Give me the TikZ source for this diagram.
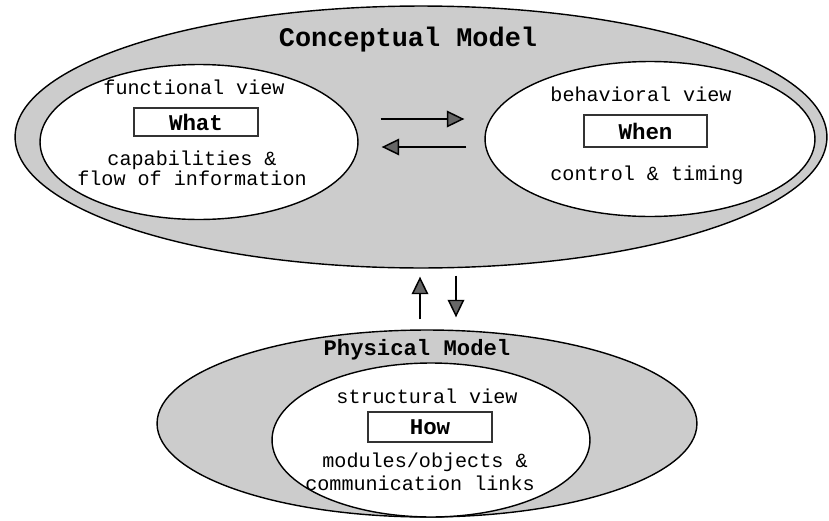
\documentclass[tikz,border=0pt]{standalone}
\usepackage{fontspec}
\setmainfont{Liberation Mono}
\usetikzlibrary{arrows.meta, shapes.geometric}

\tikzset{
    model/.style={ellipse, draw, line width=0.8pt, fill=gray!40, inner sep=0pt},
    view/.style={ellipse, draw, line width=0.8pt, fill=white, inner sep=0pt},
    askbox/.style={draw=black!80, line width=0.6pt, fill=white, inner sep=0pt,
        font=\fontsize{12.8}{14}\selectfont\bfseries},
    viewtext/.style={anchor=base, inner sep=0pt, font=\fontsize{11.45}{13}\selectfont},
    modeltitle/.style={anchor=base, inner sep=0pt},
    flow/.style={-{Triangle[length=10pt, width=9.5pt, fill=black!60]}, line width=0.85pt},
}

\begin{document}
\begin{tikzpicture}[x=0.02cm, y=-0.02cm]
    \useasboundingbox (0,0) rectangle (829,521);

    % Conceptual model with its two views
    \node[model, minimum width=16.24cm, minimum height=5.24cm] (concept) at (421,137) {};
    \node[modeltitle, font=\fontsize{15.3}{18}\selectfont\bfseries] (ctitle) at (408,46) {Conceptual Model};

    \node[view, minimum width=6.36cm, minimum height=3.1cm] (func) at (199,142) {};
    \node[viewtext] (functitle) at (194,94) {functional view};
    \node[askbox, minimum width=2.48cm, minimum height=0.56cm] (what) at (196,122) {What};
    \node[viewtext] (cap) at (192,165) {capabilities \&};
    \node[viewtext] (flowinfo) at (192,185) {flow of information};

    \node[view, minimum width=6.6cm, minimum height=3.1cm] (behav) at (650,139) {};
    \node[viewtext] (behavtitle) at (641,101) {behavioral view};
    \node[askbox, minimum width=2.46cm, minimum height=0.64cm] (when) at (645.5,131) {When};
    \node[viewtext] (ctrl) at (647,180) {control \& timing};

    % Arrows between the views
    \draw[flow, shorten <=0.44cm, shorten >=0.4cm] (func.east |- 0,119) -- (behav.west |- 0,119);
    \draw[flow, shorten <=0.36cm, shorten >=0.46cm] (behav.west |- 0,147) -- (func.east |- 0,147);

    % Physical model
    \node[model, minimum width=10.8cm, minimum height=3.74cm] (phys) at (427,423.5) {};
    \node[modeltitle, font=\fontsize{12.65}{15}\selectfont\bfseries] (ptitle) at (417,355) {Physical Model};

    \node[view, minimum width=6.36cm, minimum height=3.08cm] (struct) at (431,440) {};
    \node[viewtext] (structtitle) at (427,403) {structural view};
    \node[askbox, minimum width=2.48cm, minimum height=0.6cm] (how) at (430,427) {How};
    \node[viewtext] (modobj) at (425,467) {modules/objects \&};
    \node[viewtext] (commlinks) at (420,490) {communication links};

    % Arrows between the models
    \draw[flow, shorten <=0.2cm, shorten >=0.16cm] (phys.north -| 420,0) -- (concept.south -| 420,0);
    \draw[flow, shorten <=0.14cm, shorten >=0.24cm] (concept.south -| 456,0) -- (phys.north -| 456,0);
\end{tikzpicture}
\end{document}
